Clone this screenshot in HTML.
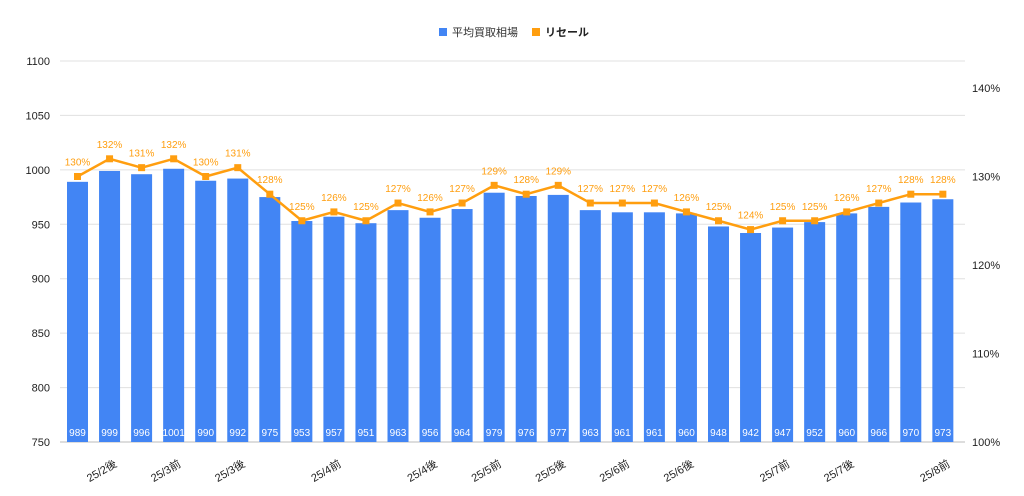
<!DOCTYPE html>
<html><head><meta charset="utf-8"><style>
body{margin:0;background:#fff;}
svg{display:block;font-family:"Liberation Sans","Noto Sans CJK JP",sans-serif;}
</style></head><body>
<svg id="chart" width="1024" height="496" viewBox="0 0 1024 496" xmlns="http://www.w3.org/2000/svg">
<g>
<rect x="439" y="28" width="8" height="8" fill="#4285f4"/>
<text x="452" y="36" font-size="11" fill="#333">平均買取相場</text>
<rect x="532" y="28" width="8" height="8" fill="#ff9e0f"/>
<text x="545" y="36" font-size="11" fill="#222" font-weight="bold">リセール</text>
</g>
<g id="grid"></g>
<g id="bars"></g>
<g id="line"></g>
<g id="xlabels"></g>
</svg>
<script>
const categories=["25/2前","25/2後","25/3前","25/3前b","25/3後","25/3後b","25/4前a","25/4前b","25/4前","25/4後a","25/4後b","25/4後","25/5前a","25/5前","25/5後a","25/5後","25/6前a","25/6前","25/6後a","25/6後","25/7前a","25/7前b","25/7前","25/7後a","25/7後","25/8前a","25/8前b","25/8前"];
const shownLabels=[[1,"25/2後"],[3,"25/3前"],[5,"25/3後"],[8,"25/4前"],[11,"25/4後"],[13,"25/5前"],[15,"25/5後"],[17,"25/6前"],[19,"25/6後"],[22,"25/7前"],[24,"25/7後"],[27,"25/8前"]];
const priceValues=[989,999,996,1001,990,992,975,953,957,951,963,956,964,979,976,977,963,961,961,960,948,942,947,952,960,966,970,973];
const resaleValues=[130,132,131,132,130,131,128,125,126,125,127,126,127,129,128,129,127,127,127,126,125,124,125,125,126,127,128,128];
const leftTicks=[750,800,850,900,950,1000,1050,1100];
const rightTicks=[100,110,120,130,140];
const NS="http://www.w3.org/2000/svg";
const yL=v=>442-(v-750)*(381/350);
const yR=v=>442-(v-100)*(354/40);
const xC=i=>77.5+i*32.05;
function mk(tag,attrs,parent,txt){const e=document.createElementNS(NS,tag);for(const k in attrs)e.setAttribute(k,attrs[k]);if(txt!==undefined)e.textContent=txt;parent.appendChild(e);return e;}
const grid=document.getElementById('grid');
leftTicks.forEach(t=>{
 const l=mk('line',{x1:60,x2:965,y1:yL(t),y2:yL(t),stroke:t===750?'#bbb':'#e0e0e0','stroke-width':1},grid);
 
 
 const tx=mk('text',{x:50,y:yL(t)+4,'text-anchor':'end','font-size':11,fill:'#222'},grid,String(t));
 
 
});
rightTicks.forEach(t=>{
 const tx=mk('text',{x:972,y:yR(t)+4,'font-size':11,fill:'#222'},grid,t+'%');
 
 
});
const bars=document.getElementById('bars');
priceValues.forEach((v,i)=>{
 const r=mk('rect',{x:xC(i)-10.5,y:yL(v),width:21,height:442-yL(v),fill:'#4285f4'},bars);
 
 
 const t=mk('text',{x:xC(i),y:436,'text-anchor':'middle','font-size':10,fill:'#fff'},bars,String(v));
 
 
});
const line=document.getElementById('line');
const pts=resaleValues.map((v,i)=>xC(i)+','+yR(v)).join(' ');
const pl=mk('polyline',{points:pts,fill:'none',stroke:'#ff9e0f','stroke-width':2.5},line);


resaleValues.forEach((v,i)=>{
 const m=mk('rect',{x:xC(i)-3.5,y:yR(v)-3.5,width:7,height:7,fill:'#ff9e0f'},line);
 
 
 const t=mk('text',{x:xC(i),y:yR(v)-11,'text-anchor':'middle','font-size':10,fill:'#ff9e0f'},line,v+'%');
 
 
});
const xl=document.getElementById('xlabels');
shownLabels.forEach(([i,s])=>{
 const x=xC(i)+8,y=466;
 const t=mk('text',{x:x,y:y,'text-anchor':'end','font-size':11,fill:'#222',transform:`rotate(-30 ${x} ${y})`},xl,s);
 
 
});
</script>
</body></html>
